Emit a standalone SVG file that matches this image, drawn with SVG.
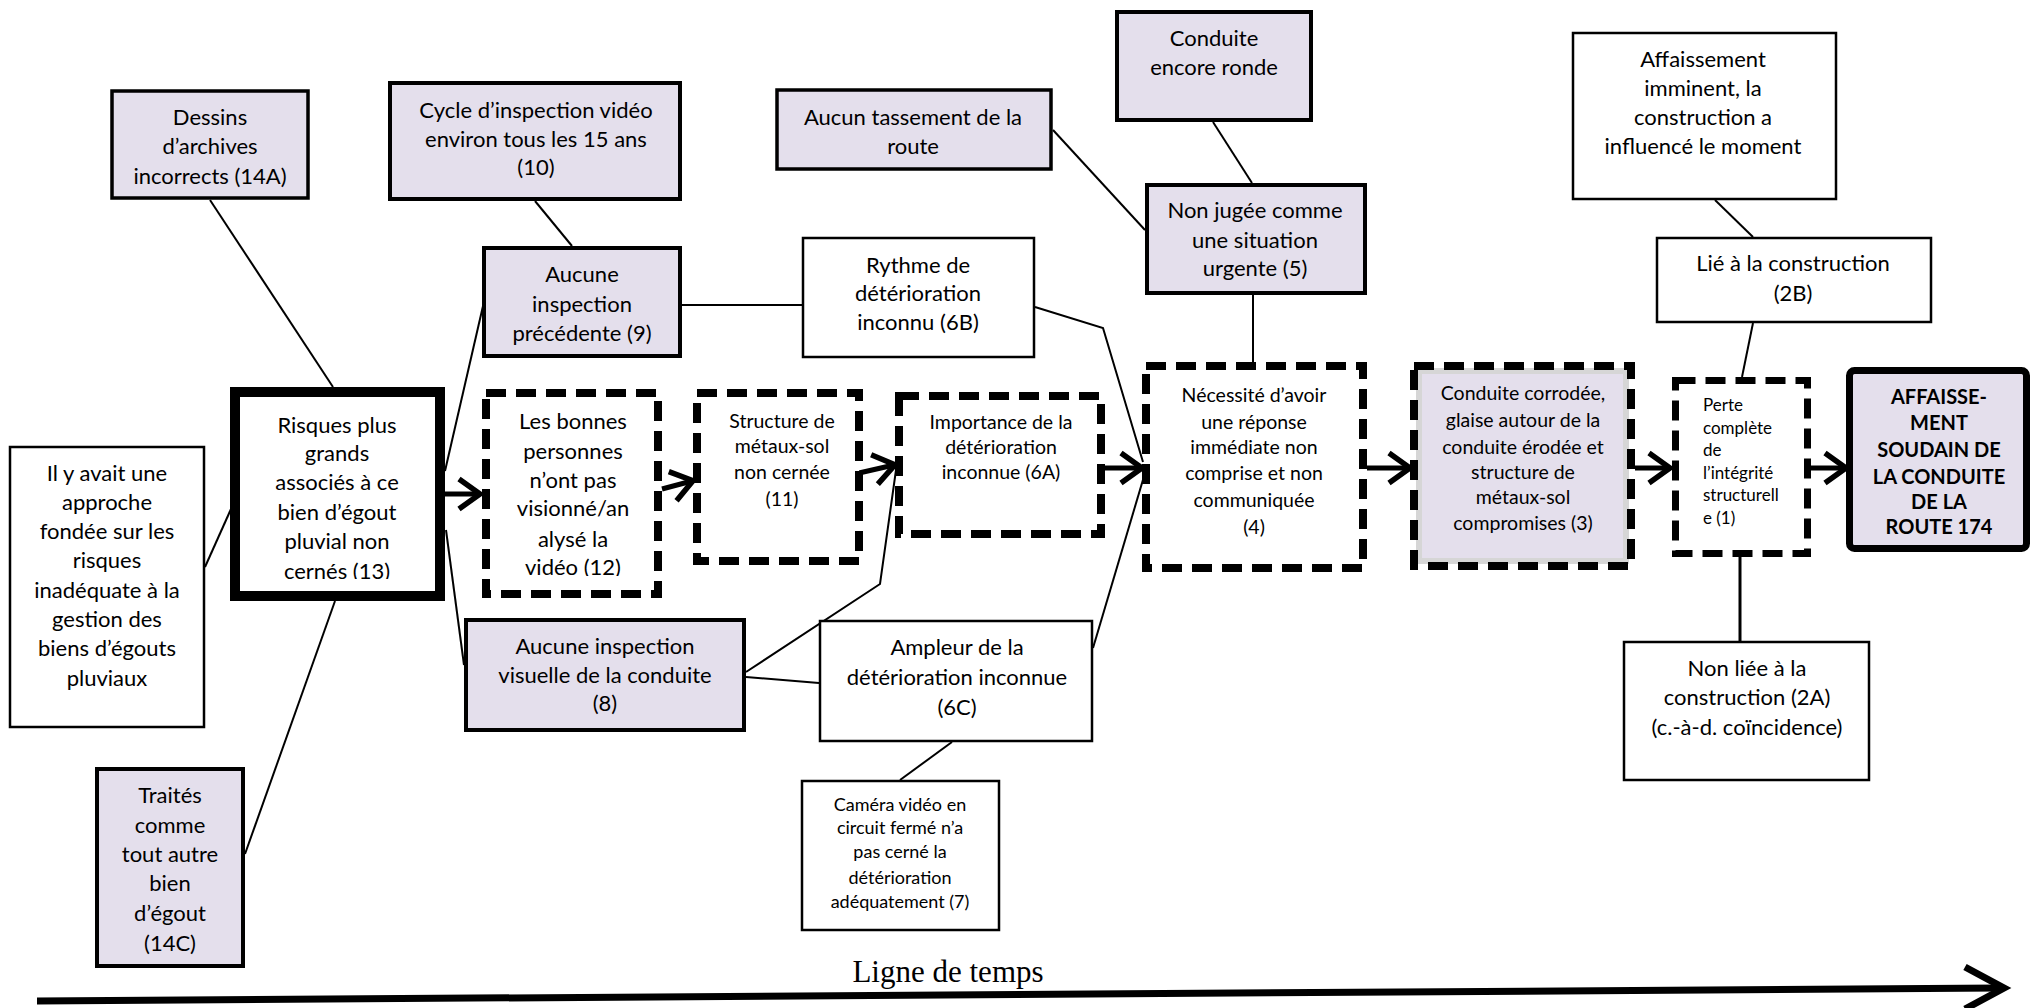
<svg xmlns="http://www.w3.org/2000/svg" width="2040" height="1008" viewBox="0 0 2040 1008">
<style>
.n{fill:#fff;stroke:#000;stroke-width:2.5}
.p{fill:#e4dfec;stroke:#000;stroke-width:4}
.d{fill:#fff;stroke:#000;stroke-width:8;stroke-dasharray:20 10}
.t{font-family:Lato,"Liberation Sans",sans-serif;font-size:22px;text-anchor:middle;fill:#000}
.m{font-size:19.5px}
.s{font-size:18px}
.xs{font-size:17px;text-anchor:start}
.b{font-weight:bold;font-size:20px}
.c{fill:none;stroke:#000;stroke-width:2}
.a{fill:none;stroke:#000;stroke-width:5;marker-end:url(#arr)}
</style>
<defs>
<marker id="arr" markerUnits="userSpaceOnUse" viewBox="-4 -4 30 38" markerWidth="30" markerHeight="38" refX="20" refY="15" orient="auto">
<path d="M0,0 L21,15 L0,30" fill="none" stroke="#000" stroke-width="5.5"/>
</marker>
<clipPath id="clip13"><rect x="240" y="397" width="195" height="182"/></clipPath>
<clipPath id="clip12"><rect x="490" y="397" width="164" height="179"/></clipPath>
</defs>
<rect width="2040" height="1008" fill="#fff"/>

<g id="connectors">
<line class="c" x1="210" y1="200" x2="333" y2="387"/>
<line class="c" x1="205" y1="567" x2="231" y2="509"/>
<line class="c" x1="335" y1="601" x2="245" y2="854"/>
<line class="c" x1="445" y1="471" x2="483" y2="306"/>
<line class="c" x1="446" y1="530" x2="464" y2="665"/>
<line class="c" x1="535" y1="201" x2="572" y2="246"/>
<line class="c" x1="682" y1="305" x2="802" y2="305"/>
<line class="c" x1="1053" y1="130" x2="1145" y2="230"/>
<line class="c" x1="1213" y1="122" x2="1252" y2="183"/>
<line class="c" x1="1253" y1="295" x2="1253" y2="362"/>
<polyline class="c" points="1035,307 1103,328 1143,462"/>
<polyline class="c" points="746,672 880,584 896,470"/>
<line class="c" x1="746" y1="677" x2="819" y2="683"/>
<line class="c" x1="1093" y1="648" x2="1145" y2="473"/>
<line class="c" x1="952" y1="742" x2="900" y2="780"/>
<line class="c" x1="1715" y1="200" x2="1753" y2="237"/>
<line class="c" x1="1753" y1="323" x2="1742" y2="377"/>
<line class="c" x1="1740" y1="557" x2="1740" y2="641" style="stroke-width:3"/>
<line class="a" x1="445" y1="494" x2="479" y2="494"/>
<line class="a" x1="662" y1="489" x2="692" y2="481"/>
<line class="a" x1="859" y1="473" x2="894" y2="465"/>
<line class="a" x1="1105" y1="468" x2="1141" y2="468"/>
<line class="a" x1="1367" y1="468" x2="1409" y2="468"/>
<line class="a" x1="1635" y1="468" x2="1669" y2="468"/>
<line class="a" x1="1811" y1="468" x2="1845" y2="468"/>
</g>

<g id="timeline">
<line x1="37" y1="1001" x2="2000" y2="988" stroke="#000" stroke-width="7"/>
<polyline points="1965,967 2004,988 1965,1009" fill="none" stroke="#000" stroke-width="7"/>
<text x="948" y="982" style="font-family:'Liberation Serif',serif;font-size:31px;text-anchor:middle">Ligne de temps</text>
</g>

<g id="n14A">
<rect class="p" x="112" y="91" width="196" height="107" style="stroke-width:3.5"/>
<text class="t" x="210" y="124.5">Dessins</text>
<text class="t" x="210" y="153.5">d’archives</text>
<text class="t" x="210" y="183.5">incorrects (14A)</text>
</g>

<g id="n10">
<rect class="p" x="390" y="83" width="290" height="116"/>
<text class="t" x="536" y="117.5">Cycle d’inspection vidéo</text>
<text class="t" x="536" y="146.5">environ tous les 15 ans</text>
<text class="t" x="536" y="174.5">(10)</text>
</g>

<g id="nTassement">
<rect class="p" x="777" y="90" width="274" height="79" style="stroke-width:3.5"/>
<text class="t" x="913" y="124.5">Aucun tassement de la</text>
<text class="t" x="913" y="153.5">route</text>
</g>

<g id="nRonde">
<rect class="p" x="1117" y="12" width="194" height="108"/>
<text class="t" x="1214" y="45.5">Conduite</text>
<text class="t" x="1214" y="74.5">encore ronde</text>
</g>

<g id="nImminent">
<rect class="n" x="1573" y="33" width="263" height="166"/>
<text class="t" x="1703" y="66.5">Affaissement</text>
<text class="t" x="1703" y="95.5">imminent, la</text>
<text class="t" x="1703" y="124.5">construction a</text>
<text class="t" x="1703" y="153.5">influencé le moment</text>
</g>

<g id="n9">
<rect class="p" x="484" y="248" width="196" height="108"/>
<text class="t" x="582" y="281.5">Aucune</text>
<text class="t" x="582" y="311.5">inspection</text>
<text class="t" x="582" y="340.5">précédente (9)</text>
</g>

<g id="n6B">
<rect class="n" x="803" y="238" width="231" height="119"/>
<text class="t" x="918" y="272.5">Rythme de</text>
<text class="t" x="918" y="300.5">détérioration</text>
<text class="t" x="918" y="329.5">inconnu (6B)</text>
</g>

<g id="n5">
<rect class="p" x="1147" y="185" width="218" height="108"/>
<text class="t" x="1255" y="217.5">Non jugée comme</text>
<text class="t" x="1255" y="247.5">une situation</text>
<text class="t" x="1255" y="275.5">urgente (5)</text>
</g>

<g id="n2B">
<rect class="n" x="1657" y="238" width="274" height="84"/>
<text class="t" x="1793" y="270.5">Lié à la construction</text>
<text class="t" x="1793" y="300.5">(2B)</text>
</g>

<g id="nLeft">
<rect class="n" x="10" y="447" width="194" height="280"/>
<text class="t" x="107" y="480.5">Il y avait une</text>
<text class="t" x="107" y="509.8">approche</text>
<text class="t" x="107" y="539.1">fondée sur les</text>
<text class="t" x="107" y="568.4">risques</text>
<text class="t" x="107" y="597.6">inadéquate à la</text>
<text class="t" x="107" y="626.9">gestion des</text>
<text class="t" x="107" y="656.2">biens d’égouts</text>
<text class="t" x="107" y="685.5">pluviaux</text>
</g>

<g id="n13">
<rect x="235" y="392" width="205" height="204" fill="#fff" stroke="#000" stroke-width="10"/>
<g clip-path="url(#clip13)">
<text class="t" x="337" y="432.5">Risques plus</text>
<text class="t" x="337" y="460.5">grands</text>
<text class="t" x="337" y="489.5">associés à ce</text>
<text class="t" x="337" y="519.5">bien d’égout</text>
<text class="t" x="337" y="548.5">pluvial non</text>
<text class="t" x="337" y="578.5">cernés (13)</text>
</g>
</g>

<g id="n12">
<rect class="d" x="486" y="393" width="172" height="201"/>
<g clip-path="url(#clip12)">
<text class="t" x="573" y="428.5">Les bonnes</text>
<text class="t" x="573" y="458.5">personnes</text>
<text class="t" x="573" y="487.5">n’ont pas</text>
<text class="t" x="573" y="515.5">visionné/an</text>
<text class="t" x="573" y="546.5">alysé la</text>
<text class="t" x="573" y="574.5">vidéo (12)</text>
</g>
</g>

<g id="n11">
<rect class="d" x="697" y="393" width="162" height="168"/>
<text class="t m" x="782" y="427.5">Structure de</text>
<text class="t m" x="782" y="452.5">métaux-sol</text>
<text class="t m" x="782" y="478.5">non cernée</text>
<text class="t m" x="782" y="505.5">(11)</text>
</g>

<g id="n6A">
<rect class="d" x="899" y="396" width="202" height="138"/>
<text class="t m" x="1001" y="428.5">Importance de la</text>
<text class="t m" x="1001" y="453.5">détérioration</text>
<text class="t m" x="1001" y="478.5">inconnue (6A)</text>
</g>

<g id="n4">
<rect class="d" x="1146" y="366" width="217" height="202"/>
<text class="t m" x="1254" y="401.5">Nécessité d’avoir</text>
<text class="t m" x="1254" y="428.5">une réponse</text>
<text class="t m" x="1254" y="453.5">immédiate non</text>
<text class="t m" x="1254" y="479.5">comprise et non</text>
<text class="t m" x="1254" y="506.5">communiquée</text>
<text class="t m" x="1254" y="533.5">(4)</text>
</g>

<g id="n3">
<rect x="1419" y="371" width="207" height="190" fill="#e4dfec" stroke="#d6d6d6" stroke-width="6"/>
<rect class="d" x="1414" y="366" width="217" height="200" style="fill:none"/>
<text class="t m" x="1523" y="399.5">Conduite corrodée,</text>
<text class="t m" x="1523" y="426.5">glaise autour de la</text>
<text class="t m" x="1523" y="453.5">conduite érodée et</text>
<text class="t m" x="1523" y="478.5">structure de</text>
<text class="t m" x="1523" y="503.5">métaux-sol</text>
<text class="t m" x="1523" y="529.5">compromises (3)</text>
</g>

<g id="n1">
<rect class="d" x="1675.5" y="380.5" width="132" height="173" style="stroke-width:7"/>
<text class="t xs" x="1703" y="411">Perte</text>
<text class="t xs" x="1703" y="433.6">complète</text>
<text class="t xs" x="1703" y="456.2">de</text>
<text class="t xs" x="1703" y="478.8">l’intégrité</text>
<text class="t xs" x="1703" y="501.4">structurell</text>
<text class="t xs" x="1703" y="524">e (1)</text>
</g>

<g id="nFinal">
<rect x="1849.5" y="370.5" width="177" height="178" rx="5" fill="#e4dfec" stroke="#000" stroke-width="7"/>
<text class="t b" x="1939" y="404">AFFAISSE-</text>
<text class="t b" x="1939" y="430">MENT</text>
<text class="t b" x="1939" y="457">SOUDAIN DE</text>
<text class="t b" x="1939" y="484">LA CONDUITE</text>
<text class="t b" x="1939" y="509">DE LA</text>
<text class="t b" x="1939" y="534">ROUTE 174</text>
</g>

<g id="n14C">
<rect class="p" x="97" y="769" width="146" height="197"/>
<text class="t" x="170" y="802.5">Traités</text>
<text class="t" x="170" y="832.5">comme</text>
<text class="t" x="170" y="861.5">tout autre</text>
<text class="t" x="170" y="890.5">bien</text>
<text class="t" x="170" y="920.5">d’égout</text>
<text class="t" x="170" y="950.5">(14C)</text>
</g>

<g id="n8">
<rect class="p" x="466" y="620" width="278" height="110"/>
<text class="t" x="605" y="653.5">Aucune inspection</text>
<text class="t" x="605" y="682.5">visuelle de la conduite</text>
<text class="t" x="605" y="710.5">(8)</text>
</g>

<g id="n6C">
<rect class="n" x="820" y="621" width="272" height="120"/>
<text class="t" x="957" y="654.5">Ampleur de la</text>
<text class="t" x="957" y="684.5">détérioration inconnue</text>
<text class="t" x="957" y="714.5">(6C)</text>
</g>

<g id="n7">
<rect class="n" x="802" y="781" width="197" height="149"/>
<text class="t s" x="900" y="811">Caméra vidéo en</text>
<text class="t s" x="900" y="834">circuit fermé n’a</text>
<text class="t s" x="900" y="858">pas cerné la</text>
<text class="t s" x="900" y="884">détérioration</text>
<text class="t s" x="900" y="908">adéquatement (7)</text>
</g>

<g id="n2A">
<rect class="n" x="1624" y="642" width="245" height="138"/>
<text class="t" x="1747" y="675.5">Non liée à la</text>
<text class="t" x="1747" y="704.5">construction (2A)</text>
<text class="t" x="1747" y="734.5">(c.-à-d. coïncidence)</text>
</g>
</svg>
